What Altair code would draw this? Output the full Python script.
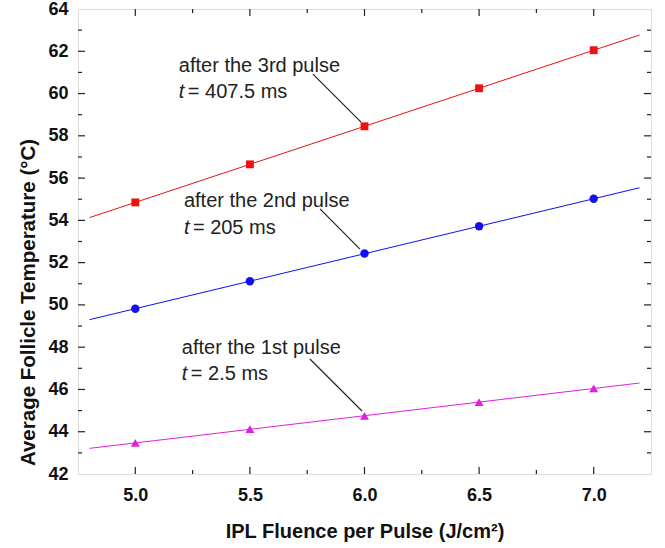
import altair as alt
import pandas as pd

# ---- data ----
fluence = [5.0, 5.5, 6.0, 6.5, 7.0]
temp_3rd = [54.85, 56.65, 58.45, 60.25, 62.05]
temp_2nd = [49.82, 51.12, 52.43, 53.72, 55.02]
temp_1st = [43.47, 44.12, 44.75, 45.40, 46.05]
series_names = ["3rd", "2nd", "1st"]
series_colors = ["#ee1111", "#1111ee", "#e020e0"]
series_shapes = ["square", "circle", "triangle-up"]
series_sizes = [62, 80, 70]

x_major = [5.0, 5.5, 6.0, 6.5, 7.0]
x_minor = [5.25, 5.75, 6.25, 6.75]
y_major = [44, 46, 48, 50, 52, 54, 56, 58, 60, 62]
y_minor = [43, 45, 47, 49, 51, 53, 55, 57, 59, 61, 63]
y_labels = [42, 44, 46, 48, 50, 52, 54, 56, 58, 60, 62, 64]

ann_lines1 = ["after the 3rd pulse", "after the 2nd pulse", "after the 1st pulse"]
ann_lines2 = ["= 407.5 ms", "= 205 ms", "= 2.5 ms"]
ann_x = [5.19, 5.212, 5.203]
ann_y1 = [61.3, 54.9, 47.94]
ann_y2 = [60.08, 53.62, 46.72]
lead_x = [5.775, 5.806, 5.762]
lead_y = [60.92, 54.54, 47.44]
lead_x2 = [5.985, 5.98, 5.989]
lead_y2 = [58.65, 52.64, 44.98]

W, H = 573, 465
FONT = "Liberation Sans"

rows = []
for name, vals in zip(series_names, [temp_3rd, temp_2nd, temp_1st]):
    for f, v in zip(fluence, vals):
        rows.append({"x": f, "y": v, "series": name})
df = pd.DataFrame(rows)

xs = alt.Scale(domain=[4.75, 7.25], nice=False, zero=False)
ys = alt.Scale(domain=[42, 64], nice=False, zero=False)
col = alt.Color("series:N", scale=alt.Scale(domain=series_names, range=series_colors), legend=None)

xaxis = alt.Axis(values=x_major, format=".1f", ticks=False, tickSize=0, domain=False, grid=False,
                 labelFont=FONT, labelFontSize=18, labelFontWeight="bold", labelColor="#111",
                 labelPadding=12, title="IPL Fluence per Pulse (J/cm²)", titleFont=FONT,
                 titleFontSize=20, titleFontWeight="bold", titleColor="#111", titlePadding=17)
yaxis = alt.Axis(values=y_labels, format="d", ticks=False, tickSize=0, domain=False, grid=False,
                 labelFont=FONT, labelFontSize=18, labelFontWeight="bold", labelColor="#111",
                 labelPadding=10, title="Average Follicle Temperature (°C)", titleFont=FONT,
                 titleFontSize=20.5, titleFontWeight="bold", titleColor="#111",
                 titleX=-50, titleY=293, titleBaseline="middle", titleAlign="center", titleAngle=-90)

base = alt.Chart(df)

fit = base.transform_regression("x", "y", groupby=["series"], extent=[4.8, 7.2]).mark_line(
    strokeWidth=1, clip=True
).encode(x=alt.X("x:Q", scale=xs, axis=xaxis), y=alt.Y("y:Q", scale=ys, axis=yaxis), color=col, detail="series:N")

pts = base.mark_point(filled=True, opacity=1).encode(
    x=alt.X("x:Q", scale=xs),
    y=alt.Y("y:Q", scale=ys),
    color=col,
    shape=alt.Shape("series:N", scale=alt.Scale(domain=series_names, range=series_shapes), legend=None),
    size=alt.Size("series:N", scale=alt.Scale(domain=series_names, range=series_sizes), legend=None),
)

# ticks (inward, all four sides)
def xticks(vals, length, top):
    d = pd.DataFrame({"v": vals})
    if top:
        yy, yy2 = 0, length
    else:
        yy, yy2 = H, H - length
    return alt.Chart(d).mark_rule(color="#222", strokeWidth=1.2).encode(
        x=alt.X("v:Q", scale=xs), y=alt.value(yy), y2=alt.value(yy2))

def yticks(vals, length, right):
    d = pd.DataFrame({"v": vals})
    if right:
        xx, xx2 = W, W - length
    else:
        xx, xx2 = 0, length
    return alt.Chart(d).mark_rule(color="#222", strokeWidth=1.2).encode(
        y=alt.Y("v:Q", scale=ys), x=alt.value(xx), x2=alt.value(xx2))

tick_layers = [
    xticks(x_major, 7, False), xticks(x_minor, 4, False),
    xticks(x_major, 7, True), xticks(x_minor, 4, True),
    yticks(y_major, 7, False), yticks(y_minor, 4, False),
    yticks(y_major, 7, True), yticks(y_minor, 4, True),
]

ann = pd.DataFrame({"x": ann_x, "y1": ann_y1, "y2": ann_y2, "l1": ann_lines1, "l2": ann_lines2})
lead = pd.DataFrame({"x": lead_x, "y": lead_y, "x2": lead_x2, "y2": lead_y2})

t1 = alt.Chart(ann).mark_text(align="left", baseline="middle", font=FONT, fontSize=20, color="#222").encode(
    x=alt.X("x:Q", scale=xs), y=alt.Y("y1:Q", scale=ys), text="l1:N")
t_it = alt.Chart(ann).mark_text(align="left", baseline="middle", font=FONT, fontSize=20, fontStyle="italic",
                                color="#222", text="t").encode(
    x=alt.X("x:Q", scale=xs), y=alt.Y("y2:Q", scale=ys))
t2 = alt.Chart(ann).mark_text(align="left", baseline="middle", font=FONT, fontSize=20, color="#222", dx=9).encode(
    x=alt.X("x:Q", scale=xs), y=alt.Y("y2:Q", scale=ys), text="l2:N")
leaders = alt.Chart(lead).mark_rule(color="#222", strokeWidth=1.2).encode(
    x=alt.X("x:Q", scale=xs), y=alt.Y("y:Q", scale=ys), x2="x2:Q", y2="y2:Q")

chart = alt.layer(fit, pts, leaders, t1, t_it, t2, *tick_layers).properties(
    width=W, height=H,
    autosize=alt.AutoSizeParams(type="none"),
    padding={"left": 78, "top": 9, "right": 14, "bottom": 74},
).configure_view(stroke="#222", strokeWidth=1.6).configure(background="white")

chart.save("out.html", embed_options={"renderer": "svg", "actions": False})
